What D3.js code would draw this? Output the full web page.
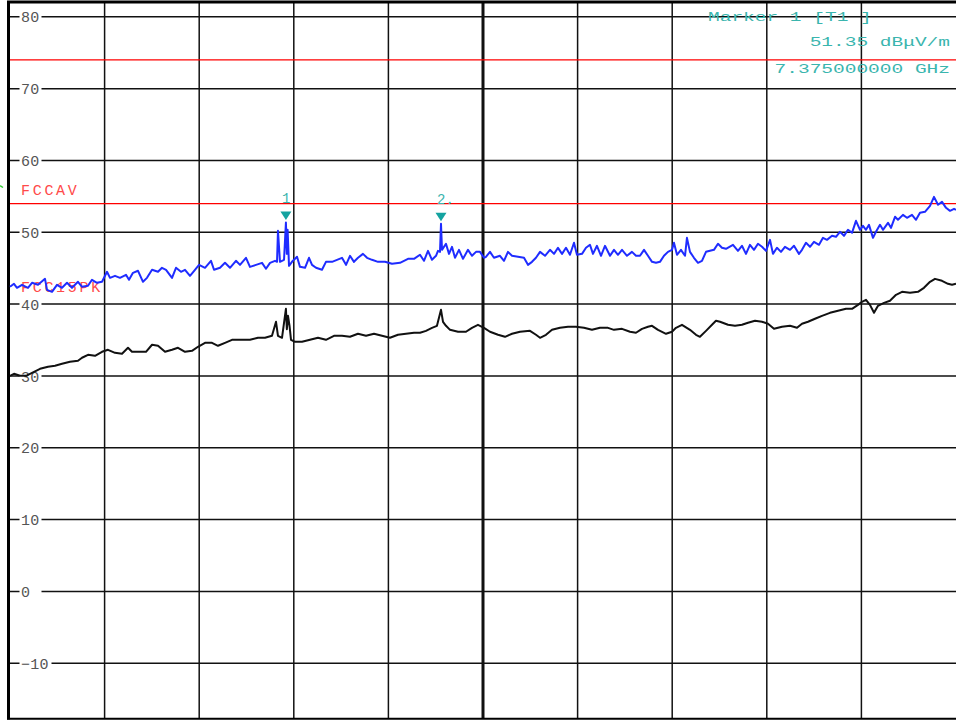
<!DOCTYPE html>
<html>
<head>
<meta charset="utf-8">
<script src="https://cdn.jsdelivr.net/npm/d3@7"></script>
<style>
  body { margin: 0; background: #fff; }
  svg { display: block; }
</style>
</head>
<body>
<div id="chart"></div>
<script>
// sweep 3 - 18 GHz, level in dBuV/m
var freqDomain = [3, 18];
var levelDomain = [-17.7, 82];
var freqTicks = [3, 4.5, 6, 7.5, 9, 10.5, 12, 13.5, 15, 16.5, 18];
var levelTicks = [-10, 0, 10, 20, 30, 40, 50, 60, 70, 80];

var limits = [
    { name: "FCC15PK", level: 74, labelLevel: 41.75 },
    { name: "FCCAV", level: 54, labelLevel: 55.2 }
];

var markers = [
    { label: "1", freq: 7.375, level: 51.35 },
    { label: "2.", freq: 9.834, level: 51.2 }
];

var markerInfo = ["Marker 1 [T1 ]", "51.35 dB\u03bcV/m", "7.375000000 GHz"];

// peak trace (blue) [GHz, dBuV/m]
var peakTrace = [
    [3.000, 42.41], [3.063, 42.83], [3.111, 42.27], [3.190, 42.69], [3.285, 42.27], [3.349, 42.97],
    [3.444, 42.69], [3.555, 43.52], [3.587, 41.99], [3.666, 41.71], [3.745, 42.69], [3.825, 42.27],
    [3.904, 42.97], [3.983, 42.27], [4.078, 43.11], [4.142, 42.41], [4.237, 42.55], [4.300, 43.39],
    [4.379, 42.97], [4.459, 43.11], [4.538, 44.50], [4.586, 43.66], [4.665, 43.94], [4.744, 43.66],
    [4.839, 44.08], [4.887, 43.39], [4.950, 44.36], [5.030, 44.64], [5.109, 43.11], [5.172, 43.66],
    [5.252, 44.78], [5.347, 44.50], [5.410, 45.06], [5.474, 44.78], [5.569, 43.66], [5.632, 45.06],
    [5.711, 44.50], [5.775, 44.78], [5.854, 43.94], [5.933, 44.78], [5.997, 45.47], [6.092, 45.06],
    [6.187, 46.03], [6.235, 44.78], [6.330, 45.06], [6.409, 45.75], [6.488, 45.06], [6.583, 46.03],
    [6.647, 45.47], [6.742, 46.45], [6.805, 45.19], [6.901, 45.47], [6.996, 45.75], [7.059, 44.92],
    [7.123, 45.75], [7.202, 46.03], [7.234, 45.89], [7.249, 50.21], [7.281, 45.89], [7.345, 46.17],
    [7.375, 51.35], [7.390, 47.00], [7.402, 50.35], [7.424, 45.33], [7.471, 45.89], [7.551, 46.59],
    [7.598, 45.19], [7.678, 45.06], [7.741, 46.45], [7.789, 45.47], [7.852, 45.06], [7.947, 44.78],
    [8.010, 45.89], [8.106, 45.89], [8.185, 46.17], [8.264, 46.45], [8.328, 45.47], [8.391, 46.73],
    [8.454, 45.89], [8.518, 46.45], [8.597, 47.00], [8.661, 46.45], [8.740, 46.17], [8.835, 45.89],
    [8.946, 45.89], [9.057, 45.61], [9.184, 45.75], [9.311, 46.31], [9.406, 46.31], [9.501, 46.87],
    [9.564, 46.03], [9.628, 47.42], [9.691, 46.17], [9.755, 46.73], [9.786, 47.42], [9.818, 47.28],
    [9.834, 51.20], [9.850, 47.56], [9.913, 48.40], [9.961, 47.00], [10.008, 47.98], [10.056, 46.45],
    [10.119, 47.56], [10.183, 46.31], [10.262, 47.56], [10.325, 46.73], [10.389, 47.28], [10.452, 47.28],
    [10.516, 46.45], [10.547, 46.59], [10.611, 47.28], [10.674, 46.45], [10.769, 46.73], [10.833, 46.03],
    [10.896, 47.28], [10.960, 46.73], [11.055, 46.59], [11.150, 46.45], [11.213, 45.47], [11.277, 45.89],
    [11.340, 46.45], [11.404, 47.28], [11.483, 46.73], [11.562, 47.56], [11.626, 47.00], [11.689, 47.84],
    [11.753, 47.00], [11.816, 47.84], [11.879, 46.87], [11.943, 48.54], [11.990, 46.87], [12.070, 47.00],
    [12.133, 47.84], [12.196, 48.26], [12.244, 47.00], [12.307, 48.12], [12.371, 46.73], [12.434, 48.12],
    [12.514, 46.73], [12.577, 47.56], [12.640, 46.87], [12.704, 47.56], [12.783, 46.73], [12.862, 47.28],
    [12.926, 46.73], [12.989, 46.73], [13.053, 47.56], [13.116, 46.73], [13.180, 45.89], [13.243, 45.75],
    [13.306, 45.89], [13.370, 46.73], [13.433, 47.28], [13.497, 47.56], [13.528, 48.54], [13.576, 46.87],
    [13.639, 47.56], [13.703, 46.73], [13.734, 49.23], [13.782, 47.28], [13.845, 46.45], [13.909, 45.75],
    [13.972, 46.03], [14.036, 47.28], [14.099, 47.42], [14.162, 47.56], [14.226, 48.40], [14.289, 47.84],
    [14.353, 47.70], [14.464, 48.26], [14.543, 47.42], [14.606, 48.12], [14.670, 47.00], [14.733, 48.26],
    [14.797, 47.56], [14.860, 48.40], [14.924, 47.98], [14.987, 47.42], [15.051, 48.95], [15.098, 47.00],
    [15.161, 47.84], [15.225, 47.28], [15.288, 47.98], [15.368, 47.56], [15.431, 48.12], [15.510, 47.00],
    [15.558, 47.56], [15.621, 48.54], [15.685, 47.98], [15.748, 48.68], [15.828, 48.26], [15.891, 49.23],
    [15.954, 48.95], [16.034, 49.51], [16.097, 49.37], [16.160, 50.07], [16.224, 49.51], [16.287, 50.35],
    [16.351, 49.93], [16.414, 51.60], [16.478, 50.35], [16.525, 50.90], [16.573, 50.35], [16.620, 51.04],
    [16.684, 49.23], [16.731, 50.07], [16.795, 51.04], [16.842, 50.35], [16.922, 51.32], [16.969, 50.62],
    [17.033, 52.16], [17.080, 51.74], [17.159, 52.43], [17.223, 52.02], [17.302, 52.43], [17.366, 51.74],
    [17.429, 52.71], [17.508, 52.85], [17.588, 53.69], [17.651, 54.94], [17.715, 53.83], [17.778, 54.24],
    [17.842, 53.41], [17.905, 52.99], [17.969, 53.27], [18.000, 53.13]
];

// average trace (black) [GHz, dBuV/m]
var avgTrace = [
    [3.000, 30.02], [3.063, 30.30], [3.159, 30.02], [3.254, 30.02], [3.349, 30.44], [3.476, 30.99],
    [3.603, 31.27], [3.714, 31.41], [3.825, 31.69], [3.951, 31.97], [4.078, 32.11], [4.142, 32.53],
    [4.237, 32.94], [4.348, 32.80], [4.459, 33.36], [4.554, 33.64], [4.665, 33.22], [4.776, 33.08],
    [4.871, 33.92], [4.934, 33.36], [5.061, 33.36], [5.156, 33.36], [5.252, 34.34], [5.347, 34.20],
    [5.458, 33.36], [5.569, 33.64], [5.664, 33.92], [5.775, 33.36], [5.886, 33.50], [5.981, 34.06],
    [6.092, 34.61], [6.203, 34.61], [6.298, 34.20], [6.409, 34.61], [6.520, 35.03], [6.647, 35.03],
    [6.805, 35.03], [6.932, 35.31], [7.043, 35.31], [7.154, 35.59], [7.218, 37.54], [7.249, 35.59],
    [7.313, 35.31], [7.375, 39.35], [7.390, 36.50], [7.408, 38.37], [7.432, 37.00], [7.456, 35.03],
    [7.519, 34.75], [7.630, 34.75], [7.757, 35.03], [7.884, 35.31], [8.010, 35.03], [8.137, 35.59],
    [8.264, 35.59], [8.391, 35.45], [8.518, 35.87], [8.645, 35.59], [8.772, 35.87], [8.898, 35.59],
    [9.025, 35.31], [9.152, 35.73], [9.279, 35.87], [9.406, 36.01], [9.501, 36.01], [9.596, 36.28],
    [9.691, 36.70], [9.770, 36.98], [9.834, 39.21], [9.866, 37.54], [9.913, 36.98], [9.977, 36.42],
    [10.104, 36.15], [10.230, 36.15], [10.325, 36.70], [10.420, 37.12], [10.516, 36.70], [10.611, 36.15],
    [10.738, 35.73], [10.849, 35.45], [10.960, 35.87], [11.087, 36.15], [11.245, 36.28], [11.340, 35.73],
    [11.404, 35.31], [11.499, 35.73], [11.594, 36.42], [11.721, 36.70], [11.848, 36.84], [11.974, 36.84],
    [12.101, 36.70], [12.228, 36.42], [12.355, 36.70], [12.482, 36.70], [12.577, 36.42], [12.704, 36.56],
    [12.831, 36.15], [12.926, 36.01], [13.021, 36.56], [13.116, 36.84], [13.180, 36.98], [13.275, 36.42],
    [13.402, 35.87], [13.497, 36.15], [13.560, 36.70], [13.655, 37.12], [13.782, 36.42], [13.877, 35.73],
    [13.940, 35.45], [14.036, 36.28], [14.131, 37.12], [14.194, 37.68], [14.258, 37.54], [14.385, 37.12],
    [14.496, 36.98], [14.606, 37.12], [14.702, 37.40], [14.813, 37.68], [14.924, 37.54], [15.019, 37.26],
    [15.114, 36.56], [15.241, 36.84], [15.368, 36.98], [15.479, 36.70], [15.558, 37.26], [15.653, 37.54],
    [15.764, 37.96], [15.875, 38.37], [16.002, 38.79], [16.129, 39.07], [16.256, 39.35], [16.351, 39.35],
    [16.446, 39.90], [16.509, 40.32], [16.573, 40.60], [16.636, 39.90], [16.700, 38.79], [16.763, 39.77],
    [16.858, 40.18], [16.953, 40.46], [17.049, 41.30], [17.144, 41.71], [17.271, 41.58], [17.397, 41.71],
    [17.492, 42.27], [17.588, 43.11], [17.667, 43.52], [17.778, 43.25], [17.873, 42.83], [17.937, 42.69],
    [18.000, 42.83]
];

var ctx = {
    w: 956,
    h: 726,
    mono: "'Liberation Mono', 'DejaVu Sans Mono', monospace",
    teal: "#3ab5ae",
    labelRed: "#ff4a4a"
};

var createScales = function() {
    ctx.x = d3.scaleLinear().domain(freqDomain).range([10, 956]);
    ctx.y = d3.scaleLinear().domain(levelDomain).range([718.5, 2.5]);
};

var addGrid = function(svgEl) {
    var g = svgEl.append("g").attr("id", "grid");

    g.selectAll("line.vgrid")
        .data(freqTicks.slice(1, -1))
        .enter()
        .append("line")
        .attr("class", "vgrid")
        .attr("x1", d => ctx.x(d))
        .attr("x2", d => ctx.x(d))
        .attr("y1", ctx.y(levelDomain[1]))
        .attr("y2", ctx.y(levelDomain[0]))
        .attr("stroke", "#111")
        .attr("stroke-width", d => d == 10.5 ? 3 : 1.5);

    g.selectAll("line.hgrid")
        .data(levelTicks)
        .enter()
        .append("line")
        .attr("class", "hgrid")
        .attr("x1", ctx.x(freqDomain[0]))
        .attr("x2", ctx.x(freqDomain[1]))
        .attr("y1", d => ctx.y(d))
        .attr("y2", d => ctx.y(d))
        .attr("stroke", "#111")
        .attr("stroke-width", 1.5);

    // tick labels sit in a gap of the grid line
    var lab = g.selectAll("g.ylab")
        .data(levelTicks)
        .enter()
        .append("g")
        .attr("class", "ylab")
        .attr("transform", d => "translate(21," + ctx.y(d) + ")");

    lab.append("rect")
        .attr("x", -1.5)
        .attr("y", -6)
        .attr("height", 12)
        .attr("width", d => d < 0 ? 32 : 22)
        .attr("fill", "#fff");

    lab.append("text")
        .attr("dy", "0.37em")
        .attr("font-family", ctx.mono)
        .attr("font-size", "15px")
        .attr("letter-spacing", "0.3px")
        .attr("fill", "#555")
        .text(d => d < 0 ? "\u2212" + Math.abs(d) : d);

    // frame
    g.append("line")
        .attr("x1", 8.5).attr("x2", 8.5)
        .attr("y1", 1).attr("y2", 719.5)
        .attr("stroke", "#000").attr("stroke-width", 3);
    g.append("line")
        .attr("x1", 7).attr("x2", 956)
        .attr("y1", 2).attr("y2", 2)
        .attr("stroke", "#000").attr("stroke-width", 3);
    g.append("line")
        .attr("x1", 7).attr("x2", 956)
        .attr("y1", 718.8).attr("y2", 718.8)
        .attr("stroke", "#000").attr("stroke-width", 2);

    // little green mark at the left edge
    g.append("path")
        .attr("d", "M0,185.5 L3,187.5")
        .attr("stroke", "#3c3")
        .attr("stroke-width", 1.5);
};

var addLimits = function(svgEl) {
    var g = svgEl.append("g").attr("id", "limits");

    g.selectAll("line")
        .data(limits)
        .enter()
        .append("line")
        .attr("x1", ctx.x(freqDomain[0]))
        .attr("x2", ctx.x(freqDomain[1]))
        .attr("y1", d => ctx.y(d.level))
        .attr("y2", d => ctx.y(d.level))
        .attr("stroke", "#ff0000")
        .attr("stroke-width", 1.3);

    g.selectAll("text")
        .data(limits)
        .enter()
        .append("text")
        .attr("x", 21)
        .attr("y", d => ctx.y(d.labelLevel))
        .attr("font-family", ctx.mono)
        .attr("font-size", "15px")
        .attr("letter-spacing", "2.7px")
        .attr("fill", ctx.labelRed)
        .text(d => d.name);
};

var addTraces = function(svgEl) {
    var line = d3.line()
        .x(d => ctx.x(d[0]))
        .y(d => ctx.y(d[1]));

    svgEl.append("path")
        .datum(avgTrace)
        .attr("d", line)
        .attr("fill", "none")
        .attr("stroke", "#111")
        .attr("stroke-width", 2)
        .attr("stroke-linejoin", "round");

    svgEl.append("path")
        .datum(peakTrace)
        .attr("d", line)
        .attr("fill", "none")
        .attr("stroke", "#1f2cff")
        .attr("stroke-width", 2)
        .attr("stroke-linejoin", "round");
};

var addMarkers = function(svgEl) {
    var g = svgEl.append("g").attr("id", "markers");

    var m = g.selectAll("g")
        .data(markers)
        .enter()
        .append("g")
        .attr("transform", d => "translate(" + ctx.x(d.freq) + "," + ctx.y(d.level) + ")");

    m.append("path")
        .attr("d", "M-5.5,-11 L5.5,-11 L0,-2.5 Z")
        .attr("fill", "#14a3a0");

    m.append("text")
        .attr("x", -4)
        .attr("y", -20)
        .attr("font-family", ctx.mono)
        .attr("font-size", "14px")
        .attr("fill", ctx.teal)
        .text(d => d.label);

    var info = svgEl.append("g").attr("id", "markerInfo");
    var rows = [
        { x: 708, y: 21, anchor: "start" },
        { x: 950, y: 46, anchor: "end" },
        { x: 950, y: 72.5, anchor: "end" }
    ];
    info.selectAll("text")
        .data(markerInfo)
        .enter()
        .append("text")
        .attr("transform", (d, i) => "translate(" + rows[i].x + "," + rows[i].y + ") scale(1.5,1)")
        .attr("text-anchor", (d, i) => rows[i].anchor)
        .attr("font-family", ctx.mono)
        .attr("font-size", "13px")
        .attr("fill", ctx.teal)
        .text(d => d);
};

var drawViz = function() {
    var svgEl = d3.select("#chart").append("svg")
        .attr("width", ctx.w)
        .attr("height", ctx.h);

    svgEl.append("rect")
        .attr("width", ctx.w)
        .attr("height", ctx.h)
        .attr("fill", "#fff");

    createScales();
    addGrid(svgEl);
    addLimits(svgEl);
    addTraces(svgEl);
    addMarkers(svgEl);
};

drawViz();
</script>
</body>
</html>
